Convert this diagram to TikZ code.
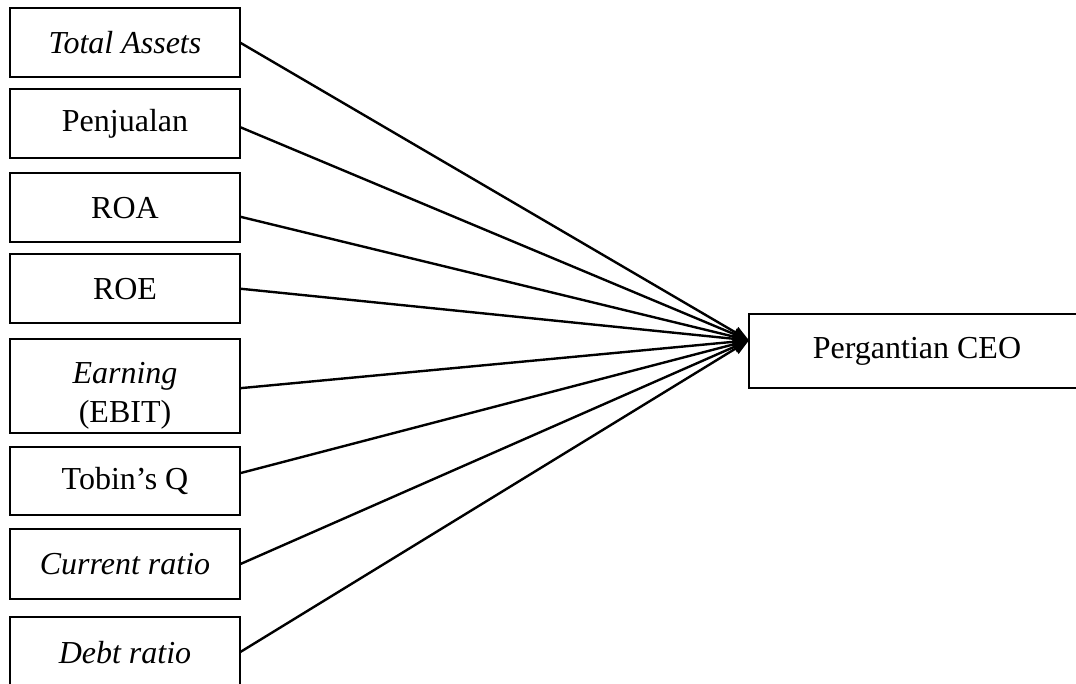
\documentclass[tikz,border=0pt]{standalone}
\usepackage{fontspec}
\setmainfont{Liberation Serif}
\usetikzlibrary{arrows.meta, positioning}

\begin{document}
\begin{tikzpicture}[
  x=0.375pt, y=-0.375pt,
  node distance = 4.5pt,
  varbox/.style = {
    rectangle, draw=black, line width=0.85pt,
    minimum width=86.25pt, minimum height=25.9pt,
    align=center, font=\fontsize{12}{14.6}\selectfont,
    inner sep=2pt, outer sep=0pt
  },
  ceobox/.style = {varbox, minimum width=126pt, minimum height=27.75pt},
  arr/.style = {-{Triangle[length=6pt, width=4.4pt]}, line width=0.9pt, black}
]
\useasboundingbox (0,0) rectangle (1076,683);
\clip (0,0) rectangle (1076,683);

\node[varbox, anchor=north west] (assets) at (10,8) {\textit{Total Assets}};
\node[varbox, below=4.5pt of assets]  (sales)   {Penjualan};
\node[varbox, below=5.6pt of sales]   (roa)     {ROA};
\node[varbox, below=4.5pt of roa]     (roe)     {ROE};
\node[varbox, below=6pt of roe, minimum height=35.25pt] (ebit)
  {\raisebox{-3.5pt}[\height][\depth]{\begin{tabular}{@{}c@{}}\textit{Earning}\\(EBIT)\end{tabular}}};
\node[varbox, below=5.25pt of ebit, minimum height=25.5pt]     (tobin)   {Tobin's Q};
\node[varbox, below=5.25pt of tobin, minimum height=26.25pt]   (current) {\textit{Current ratio}};
\node[varbox, below=6.75pt of current, minimum height=26.25pt] (debt)    {\textit{Debt ratio}};

\node[ceobox, anchor=north west] (ceo) at (749,314) {Pergantian CEO};
\coordinate (tip) at ([yshift=4pt]ceo.west);

\draw[arr] (assets.east) -- (tip);
\draw[arr] ([yshift=-1.3pt]sales.east) -- (tip);
\draw[arr] ([yshift=-3.4pt]roa.east) -- (tip);
\draw[arr] (roe.east) -- (tip);
\draw[arr] ([yshift=-0.75pt]ebit.east) -- (tip);
\draw[arr] ([yshift=3pt]tobin.east) -- (tip);
\draw[arr] (current.east) -- (tip);
\draw[arr] (debt.east) -- (tip);
\end{tikzpicture}
\end{document}
